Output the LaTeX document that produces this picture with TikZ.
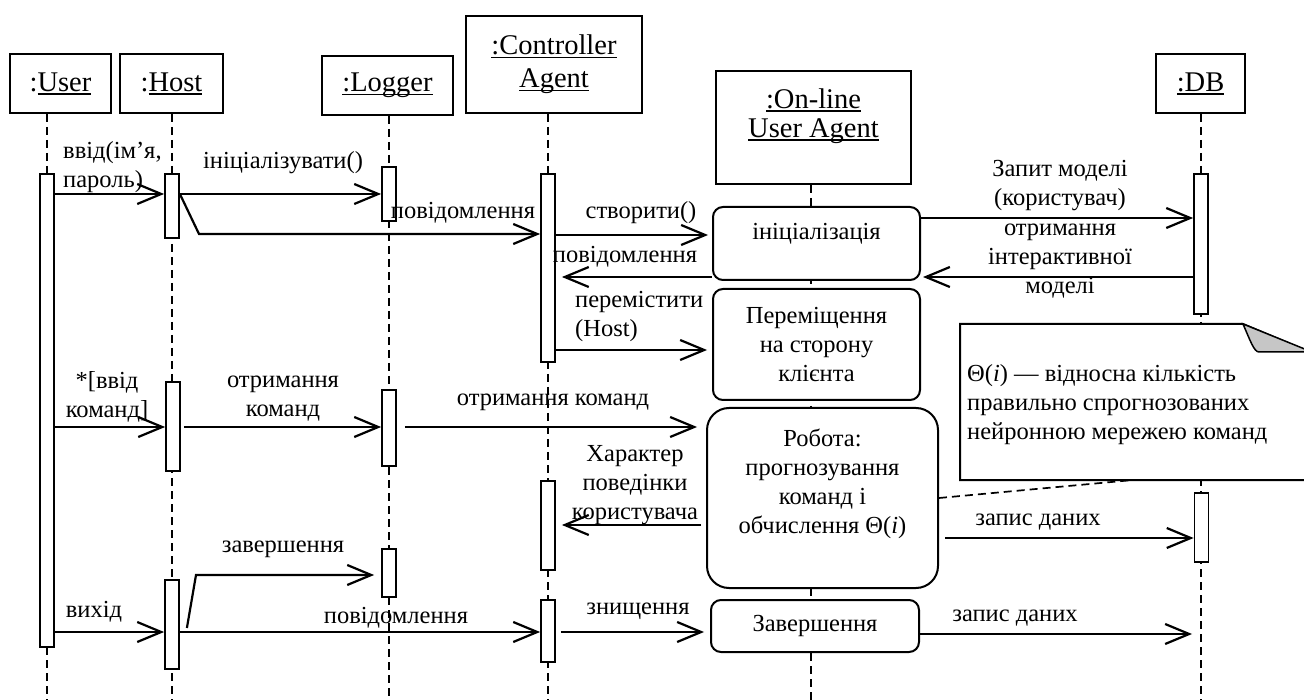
\documentclass[tikz,border=0pt]{standalone}
\usepackage{fontspec}
\setmainfont{Liberation Serif}
\usetikzlibrary{arrows.meta}
\newsavebox{\ulbox}
% underline at a fixed depth below the baseline
\newcommand{\uln}[1]{\sbox{\ulbox}{#1}\rlap{\rule[-3.5pt]{\wd\ulbox}{1.4pt}}\usebox{\ulbox}}
\tikzset{
  head/.style={draw, line width=2pt, fill=white, inner sep=0pt, align=center,
    font=\fontsize{28.5}{33}\selectfont},
  act/.style={draw, line width=1.8pt, fill=white, inner sep=0pt, minimum width=14pt},
  life/.style={line width=1.7pt, dash pattern=on 8pt off 5pt},
  state/.style={draw, line width=2pt, fill=white, rounded corners=10pt, inner sep=0pt, align=center},
  msg/.style={line width=2.2pt, -{Straight Barb[length=24pt,width=20pt]}},
  lbl/.style={inner sep=0pt, align=center},
}
\begin{document}
\begin{tikzpicture}[x=1pt, y=-1pt, font=\fontsize{24.5}{29}\selectfont]
\useasboundingbox (0,0) rectangle (1304,700);
\clip (0,0) rectangle (1304,700);

% object heads
\node[head, minimum width=101pt, minimum height=59pt] (user) at (60.5,83.5) {:\uln{User}};
\node[head, minimum width=103pt, minimum height=59pt] (host) at (171.5,83.5) {:\uln{Host}};
\node[head, minimum width=131pt, minimum height=59pt] (logger) at (387.5,85.5) {\uln{:Logger}};
\node[head, minimum width=176pt, minimum height=97pt] (ctrl) at (554,64.5) {\uln{:Controller}\\\uln{Agent}};
\node[head, minimum width=195pt, minimum height=113pt] (online) at (813.5,127.5) {};
\node[lbl, font=\fontsize{28.5}{29}\selectfont] (onlinet) at (813.5,116) {\uln{:On-line}\\\uln{User Agent}};
\node[head, minimum width=89pt, minimum height=59pt] (db) at (1200.5,83.5) {\uln{:DB}};

% lifelines
\coordinate (bottom) at (0,700);
\coordinate (uX) at (47,0);
\coordinate (hX) at (172,0);
\coordinate (lX) at (389,0);
\coordinate (cX) at (548,0);
\coordinate (oX) at (811,0);
\coordinate (dX) at (1201,0);
\draw[life] (user.south -| uX) -- (bottom -| uX);
\draw[life] (host.south -| hX) -- (bottom -| hX);
\draw[life] (logger.south -| lX) -- (bottom -| lX);
\draw[life] (ctrl.south -| cX) -- (bottom -| cX);
\draw[life] (online.south -| oX) -- (bottom -| oX);
\draw[life] (db.south -| dX) -- (bottom -| dX);

% activation bars
\node[act, minimum height=473pt] (uA) at (47,410.5) {};
\node[act, minimum height=64pt] (hA1) at (172,206) {};
\node[act, minimum height=89pt] (hA2) at (173,426.5) {};
\node[act, minimum height=89pt] (hA3) at (172,624.5) {};
\node[act, minimum height=54pt] (lA1) at (389,194) {};
\node[act, minimum height=76pt] (lA2) at (389,428) {};
\node[act, minimum height=48pt] (lA3) at (389,573) {};
\node[act, minimum height=188pt] (cA1) at (548,268) {};
\node[act, minimum height=89pt] (cA2) at (548,525.5) {};
\node[act, minimum height=62pt] (cA3) at (548,631) {};
\node[act, minimum height=140pt] (dA1) at (1201,244) {};
\node[act, minimum height=69pt] (dA2) at (1201.5,527.5) {};

% states of the on-line user agent
\node[state, minimum width=207pt, minimum height=73pt] (init) at (816.5,243.5) {};
\node[lbl] (initt) at (816.5,234) {ініціалізація};
\node[state, minimum width=207pt, minimum height=111pt] (move) at (816.5,344.5) {Переміщення\\на сторону\\клієнта};
\node[state, rounded corners=22pt, minimum width=231pt, minimum height=180pt] (work) at (822.5,498) {};
\node[lbl] (workt) at (822.5,484) {Робота:\\прогнозування\\команд і\\обчислення Θ(\textit{i})};
\node[state, minimum width=208pt, minimum height=52pt] (fin) at (815,626) {Завершення};

% note
\draw[line width=2pt, fill=white] (960,324) -- (1243,324) -- (1312,353) -- (1312,480) -- (960,480) -- cycle;
\draw[line width=1.5pt, fill=gray!45] (1243,324) .. controls (1250,340) and (1254,352) .. (1259,352) -- (1312,352) -- cycle;
\node[lbl, align=left, anchor=west] (notet) at (967,405) {Θ(\textit{i}) — відносна кількість\\правильно спрогнозованих\\нейронною мережею команд};
\coordinate (notefoot) at (1133,480);
\draw[life] (work.east |- 0,498) -- (notefoot);

% messages
\draw[msg] (uA.east |- 0,194) -- (hA1.west |- 0,194);
\node[lbl, align=left, anchor=west] (m1) at (63,167) {ввід(ім’я,\\пароль)};
\draw[msg] (hA1.east |- 0,194) -- (lA1.west |- 0,194);
\node[lbl] (m2) at (283,163) {ініціалізувати()};
\draw[msg] (hA1.east |- 0,194) -- (199,234) -- (cA1.west |- 0,234);
\node[lbl] (m3) at (463,213) {повідомлення};
\draw[msg, shorten >=4pt] (cA1.east |- 0,235) -- (init.west |- 0,235);
\node[lbl] (m4) at (641,213) {створити()};
\draw[msg, shorten >=6pt] (init.west |- 0,277) -- (cA1.east |- 0,277);
\node[lbl] (m5) at (625,257) {повідомлення};
\draw[msg, shorten >=5pt] (cA1.east |- 0,350) -- (move.west |- 0,350);
\node[lbl, align=left, anchor=west] (m6) at (575,316) {перемістити\\(Host)};
\draw[msg] (init.east |- 0,218) -- (dA1.west |- 0,218);
\node[lbl] (m7) at (1060,186) {Запит моделі\\(користувач)};
\draw[msg, shorten >=2pt] (dA1.west |- 0,277) -- (init.east |- 0,277);
\node[lbl] (m8) at (1060,261) {отримання\\інтерактивної\\моделі};
\draw[msg] (uA.east |- 0,427) -- (hA2.west |- 0,427);
\node[lbl] (m9) at (107,397) {*[ввід\\команд]};
\draw[msg, shorten <=3pt] (hA2.east |- 0,427) -- (lA2.west |- 0,427);
\node[lbl] (m10) at (283,399) {отримання\\команд};
\draw[msg, shorten <=8pt, shorten >=9pt] (lA2.east |- 0,427) -- (work.west |- 0,427);
\node[lbl] (m11) at (553,402) {отримання команд};
\draw[msg, shorten <=5pt, shorten >=6pt] (work.west |- 0,525) -- (cA2.east |- 0,525);
\node[lbl] (m12) at (635,485) {Характер\\поведінки\\користувача};
\draw[msg, shorten <=6pt] (work.east |- 0,538) -- (dA2.west |- 0,538);
\node[lbl] (m13) at (1038,522) {запис даних};
\draw[msg, shorten >=7pt] ([xshift=7pt]hA3.east |- 0,628) -- (196,575) -- (lA3.west |- 0,575);
\node[lbl] (m14) at (283,549) {завершення};
\draw[msg] (uA.east |- 0,632) -- (hA3.west |- 0,632);
\node[lbl] (m15) at (94,612) {вихід};
\draw[msg] (hA3.east |- 0,632) -- (cA3.west |- 0,632);
\node[lbl] (m16) at (396,618) {повідомлення};
\draw[msg, shorten <=5pt, shorten >=6pt] (cA3.east |- 0,632) -- (fin.west |- 0,632);
\node[lbl] (m17) at (638,611) {знищення};
\draw[msg, shorten >=9pt] (fin.east |- 0,634) -- (dX |- 0,634);
\node[lbl] (m18) at (1015,618) {запис даних};
\end{tikzpicture}
\end{document}
